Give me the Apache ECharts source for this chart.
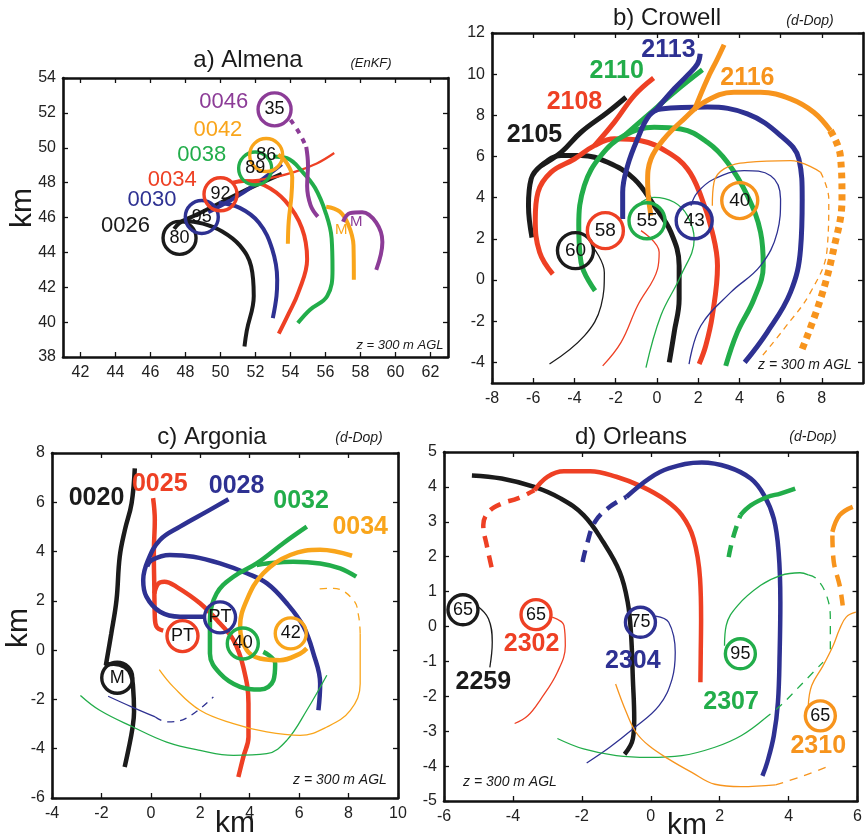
<!DOCTYPE html>
<html><head><meta charset="utf-8">
<script src="https://cdn.jsdelivr.net/npm/echarts@6/dist/echarts.min.js"></script>
<style>html,body{margin:0;padding:0;background:#fff}#c{width:865px;height:836px}</style>
</head><body><div id="c"></div><script>
// ---------- tick labels ----------
const aXTicks=[42,44,46,48,50,52,54,56,58,60,62], aYTicks=[38,40,42,44,46,48,50,52,54];
const bXTicks=[-8,-6,-4,-2,0,2,4,6,8], bYTicks=[-4,-2,0,2,4,6,8,10,12];
const cXTicks=[-4,-2,0,2,4,6,8,10], cYTicks=[-6,-4,-2,0,2,4,6,8];
const dXTicks=[-6,-4,-2,0,2,4,6], dYTicks=[-5,-4,-3,-2,-1,0,1,2,3,4,5];
// ---------- panel a (Almena) ----------
const aK=[[51.37,38.6],[51.5,39.5],[51.9,41.5],[51.75,43.2],[51.1,44.4],[50.1,45.2],[49.0,45.65],[47.95,45.8],[47.35,45.35]];
const aKd=[[47.6,45.7],[48.6,46.15],[50.0,46.85],[51.5,47.6],[53.5,48.5]];
const aB=[[52.99,40.23],[53.2,41.5],[53.24,42.43],[52.95,44.2],[52.2,45.7],[51.1,46.55],[49.9,46.85]];
const aBd=[[49.3,46.3],[50.6,47.0],[52.0,47.9],[53.5,49.05]];
const aR=[[53.33,39.34],[53.9,40.5],[54.45,41.7],[54.95,43.6],[54.65,45.4],[53.7,46.95],[52.5,47.85],[51.3,48.1],[50.7,48.0]];
const aRt=[[51.0,48.1],[52.5,48.2],[54.2,48.6],[55.5,49.1],[56.5,49.7]];
const aG=[[54.42,39.95],[55.1,40.7],[56.1,41.5],[56.4,43.0],[56.35,44.8],[56.0,46.3],[55.4,47.7],[54.7,48.6],[53.8,49.4],[53.0,49.5]];
const aO=[[53.85,44.49],[53.9,45.8],[54.05,47.2],[54.1,48.3],[53.8,49.1],[53.3,49.6]];
const aO2=[[56.04,46.62],[56.8,46.35],[57.3,45.6],[57.6,44.4],[57.62,42.43]];
const aPdot=[[54.0,51.6],[54.5,50.85],[54.9,50.05]];
const aP=[[54.9,50.05],[55.0,49.0],[54.95,47.8],[55.15,46.7],[55.56,46.05]];
const aP2=[[57.0,45.76],[57.4,46.25],[58.1,46.3],[58.9,45.7],[59.25,44.6],[58.9,43.0]];
const aCircles=[[47.66,44.83,'80'],[48.93,46.03,'95'],[50.0,47.33,'92'],[51.98,48.81,'89'],[52.61,49.58,'86'],[53.09,52.2,'35']];
const aTimes=[[50.19,52.63,'0046'],[49.85,51.0,'0042'],[48.93,49.58,'0038'],[47.24,48.18,'0034'],[46.08,47.0,'0030'],[44.57,45.52,'0026']];
const aM=[[56.9,45.29,'M'],[57.75,45.76,'M']];
// ---------- panel b (Crowell) ----------
const bK=[[-6.06,2.07],[-6.23,3.61],[-6.1,4.91],[-5.61,5.56],[-4.65,6.05],[-3.68,6.05],[-2.39,5.72],[-1.1,4.91],[-0.13,3.61],[0.68,2.32],[1.08,0.7],[1.08,-0.92],[0.84,-2.54],[0.6,-4.0]];
const bK2=[[-5.61,5.56],[-4.65,6.2],[-3.68,7.18],[-2.39,8.15],[-1.5,8.88]];
const bKt=[[-3.1,1.6],[-2.55,0.37],[-2.71,-1.25],[-3.52,-2.71],[-5.21,-4.08]];
const bR=[[-5.05,0.29],[-5.69,1.35],[-5.9,2.97],[-5.77,4.26],[-5.13,5.24],[-4.0,5.88],[-3.03,6.53],[-2.06,6.86],[-0.77,6.77],[0.52,6.21],[1.48,5.4],[2.13,4.1],[2.69,2.32],[2.94,0.7],[2.69,-1.73],[2.37,-3.19],[2.05,-4.08]];
const bR2=[[-3.03,6.53],[-2.06,7.67],[-1.1,8.96],[-0.16,9.81]];
const bRt=[[-0.77,2.4],[0.11,1.35],[0.03,0.53],[-0.94,-1.25],[-1.74,-3.03],[-2.63,-4.17]];
const bG=[[-3.0,-0.52],[-3.68,0.86],[-3.79,2.64],[-3.52,4.59],[-2.71,6.05],[-1.58,7.02],[-0.13,7.42],[1.16,7.34],[2.45,6.69],[3.42,5.72],[4.39,4.1],[5.03,2.32],[5.16,0.7],[4.71,-0.92],[3.9,-2.54],[3.34,-4.17]];
const bG2=[[-1.58,7.02],[-0.45,8.0],[0.84,9.12],[2.21,10.21]];
const bGt=[[-0.53,-4.25],[0.19,-1.73],[1.16,0.21],[1.81,1.99],[1.48,3.13],[0.84,3.78],[-0.13,4.02],[-0.77,3.78]];
const bB=[[4.26,-4.0],[5.35,-2.54],[6.48,-0.6],[6.97,1.51],[7.05,3.94],[6.89,5.88],[6.0,7.02],[4.39,8.07],[2.45,8.4],[0.19,8.31],[-0.37,7.99],[-0.94,6.86],[-1.42,5.56],[-1.66,4.26],[-1.66,2.97]];
const bB2=[[-0.1,8.2],[0.84,9.29],[1.48,9.94],[1.97,10.5],[2.1,10.99]];
const bBt=[[1.56,-4.08],[2.13,-2.22],[3.58,-0.6],[5.03,0.7],[5.84,2.32],[6.0,3.94],[5.52,5.07],[4.23,5.32],[2.77,4.91],[1.97,4.26],[1.65,3.61]];
const bO=[[-0.29,3.13],[-0.45,4.75],[-0.29,5.88],[0.35,6.86],[1.32,7.83],[2.29,8.64],[3.74,9.12],[5.03,9.12],[6.48,8.8],[7.61,8.15],[8.42,7.26]];
const bOd=[[8.42,7.26],[8.9,6.05],[8.98,3.94],[8.58,1.51],[7.94,-0.92],[7.05,-3.35]];
const bO2=[[1.81,8.25],[2.45,9.77],[2.94,10.75],[3.26,11.43]];
const bOt=[[2.69,3.61],[2.77,4.75],[3.26,5.4],[4.39,5.72],[6.48,5.8],[7.94,5.24]];
const bOtd=[[7.94,5.24],[8.34,3.94],[8.26,1.51],[7.45,-0.6],[6.16,-2.38],[5.11,-3.68]];
const bCircles=[[-3.95,1.43,'60'],[-2.5,2.4,'58'],[-0.48,2.88,'55'],[1.81,2.88,'43'],[4.02,3.86,'40']];
const bTimes=[[-5.94,7.02,'2105'],[-4.0,8.64,'2108'],[-1.95,10.13,'2110'],[0.56,11.18,'2113'],[4.39,9.8,'2116']];
// ---------- panel c (Argonia) ----------
const cK=[[-0.65,7.38],[-0.78,5.96],[-1.05,4.88],[-1.26,3.79],[-1.39,2.03],[-1.6,0.68],[-1.82,-0.61],[-1.5,-0.55],[-1.05,-0.68],[-0.8,-1.0],[-0.72,-1.5],[-0.68,-2.5],[-0.75,-3.2],[-0.9,-4.0],[-1.06,-4.74]];
const cR=[[0.09,6.17],[0.16,5.28],[0.12,3.93],[0.14,2.57],[0.16,1.36],[0.23,0.95],[0.5,0.79]];
const cR2=[[0.14,2.3],[0.3,2.7],[0.55,2.78],[1.04,2.57],[1.99,1.9],[2.8,1.08],[3.34,0.41],[3.74,-0.68],[3.95,-2.17],[3.95,-3.52],[3.74,-4.34],[3.54,-5.15]];
const cB=[[3.14,6.12],[2.26,5.62],[1.18,5.01],[0.37,4.47],[-0.11,3.66],[-0.31,2.85],[-0.18,2.17],[0.37,1.56],[1.18,1.36],[2.19,1.36]];
const cB2=[[-0.15,3.4],[0.04,3.66],[0.77,3.86],[1.72,3.79],[2.8,3.52],[3.88,3.12],[4.7,2.71],[5.5,1.9],[6.18,0.95],[6.58,-0.14],[6.85,-1.36],[6.78,-2.44]];
const cBt=[[-1.73,-1.87],[-0.78,-2.3],[0.18,-2.71]];
const cBtd=[[0.18,-2.71],[0.65,-2.91],[1.4,-2.78],[2.53,-1.9]];
const cG=[[6.31,5.01],[5.36,4.34],[4.28,3.52],[3.34,2.98],[2.66,2.3],[2.39,1.22],[2.39,-0.14],[2.8,-0.95],[3.61,-1.49],[4.42,-1.6],[4.96,-1.22],[5.03,-0.54],[4.55,-0.07]];
const cG2=[[4.28,3.45],[4.69,3.52],[5.77,3.59],[6.85,3.52],[7.66,3.32],[8.31,2.98]];
const cGt=[[-2.85,-1.84],[-2.07,-2.44],[-0.72,-3.12],[0.64,-3.73],[1.99,-4.07],[3.34,-4.27],[4.69,-4.2],[5.5,-3.66],[6.31,-2.44],[7.12,-1.02]];
const cO=[[8.14,3.83],[6.85,4.07],[5.64,3.86],[4.55,3.12],[3.88,2.03],[3.61,0.95],[3.88,0.0],[4.42,-0.34],[5.23,-0.41],[6.04,-0.14],[6.31,0.07]];
const cOt=[[0.34,-0.79],[0.91,-1.49],[1.99,-2.44],[3.34,-2.98],[4.69,-3.32],[6.04,-3.46],[7.12,-3.12],[8.07,-2.44],[8.47,-1.36],[8.47,0.68]];
const cOtd=[[8.47,0.68],[8.41,1.36],[8.2,2.03],[7.39,2.51],[6.69,2.48]];
const cCircles=[[-1.36,-1.12,'M'],[1.28,0.57,'PT'],[2.8,1.33,'PT'],[3.72,0.27,'40'],[5.66,0.68,'42']];
const cTimes=[[-2.2,6.17,'0020'],[0.36,6.75,'0025'],[3.47,6.64,'0028'],[6.08,6.03,'0032'],[8.47,4.99,'0034']];
// ---------- panel d (Orleans) ----------
const dK=[[-5.19,4.33],[-4.33,4.24],[-3.38,4.0],[-2.62,3.67],[-1.95,3.19],[-1.38,2.42],[-0.9,1.56],[-0.67,0.7],[-0.57,-0.26],[-0.52,-1.5],[-0.48,-2.65],[-0.52,-3.22],[-0.76,-3.66]];
const dKt=[[-5.05,0.6],[-4.71,0.22],[-4.6,-0.45],[-4.67,-1.17]];
const dRd=[[-4.62,1.7],[-4.76,2.33],[-4.86,2.9],[-4.71,3.28],[-4.33,3.52],[-3.86,3.67],[-3.38,3.9]];
const dR=[[-3.38,3.9],[-3.0,4.29],[-2.52,4.45],[-1.76,4.45],[-1.0,4.29],[-0.24,4.0],[0.43,3.62],[0.9,3.19],[1.24,2.52],[1.43,1.37],[1.46,0.22],[1.45,-0.74],[1.44,-1.6]];
const dRt=[[-2.86,0.27],[-2.52,0.03],[-2.48,-0.55],[-2.71,-1.31],[-3.19,-2.08],[-3.57,-2.56],[-3.95,-2.78]];
const dBd=[[-1.98,1.85],[-1.86,2.33],[-1.62,3.0],[-1.19,3.43],[-0.71,3.71]];
const dB=[[-0.71,3.71],[-0.05,4.24],[0.52,4.53],[1.48,4.7],[2.24,4.57],[2.9,4.24],[3.29,3.76],[3.57,3.09],[3.71,2.13],[3.76,0.7],[3.74,-0.74],[3.69,-2.17],[3.57,-3.13],[3.38,-3.89],[3.24,-4.28]];
const dBt=[[0.14,0.3],[0.52,0.12],[0.71,-0.74],[0.62,-1.5],[0.24,-2.27],[-0.52,-2.94],[-1.19,-3.46],[-1.86,-3.91]];
const dGd=[[2.26,1.99],[2.38,2.52],[2.6,3.19]];
const dG=[[2.6,3.19],[2.9,3.47],[3.38,3.71],[3.76,3.81],[4.19,3.95]];
const dGt=[[2.14,-0.55],[2.19,0.03],[2.52,0.6],[3.19,1.18],[3.76,1.46],[4.33,1.54],[4.57,1.48]];
const dGtd=[[4.57,1.48],[4.81,1.37],[5.1,0.89],[5.21,0.22],[5.21,-0.74]];
const dGl=[[-2.71,-3.21],[-1.95,-3.51],[-1.0,-3.7],[-0.05,-3.75],[0.9,-3.7],[1.86,-3.46],[2.62,-3.13],[3.29,-2.65]];
const dGld=[[3.29,-2.65],[3.76,-2.27],[4.43,-1.6],[5.0,-1.02]];
const dO=[[5.86,3.43],[5.48,3.19],[5.27,2.71]];
const dOd=[[5.27,2.61],[5.31,1.85],[5.48,1.18],[5.57,0.6]];
const dOt=[[-1.02,-1.65],[-0.71,-2.46],[-0.43,-3.03],[-0.05,-3.42],[0.52,-3.8],[1.19,-4.18],[1.86,-4.52],[2.62,-4.59],[3.62,-4.54]];
const dOtd=[[3.62,-4.54],[4.43,-4.28],[5.19,-3.99]];
const dOt2=[[4.57,-2.27],[4.67,-1.69],[5.0,-1.12],[5.29,-0.55],[5.48,-0.07],[5.67,0.27],[5.95,0.41]];
const dCircles=[[-5.45,0.48,'65'],[-3.33,0.34,'65'],[-0.3,0.12,'75'],[2.6,-0.78,'95'],[4.92,-2.56,'65']];
const dTimes=[[-4.86,-1.6,'2259'],[-3.46,-0.5,'2302'],[-0.52,-0.98,'2304'],[2.33,-2.17,'2307'],[4.86,-3.42,'2310']];

// ---------- styling ----------
const K='#1b1b1b',R='#ee4024',B='#2e3192',G='#22ad4a',O='#f7941d',OA='#f9a51b',P='#8c3c97';
const FONT='Liberation Sans';
const grids=[{left:63,top:78,width:385,height:279},{left:492,top:33,width:371,height:350},{left:52,top:453,width:346,height:345},{left:444,top:452,width:419,height:349}];
const ranges=[[41,63,38,54,aXTicks,aYTicks],[-8,10,-5,12,bXTicks,bYTicks],[-4,10,-6,8,cXTicks,cYTicks],[-6,6,-5,5,dXTicks,dYTicks]];
const xAxis=[],yAxis=[];
function ax(i,pos,lab,isX){
  const r=ranges[i];const t=isX?r[4]:r[5];
  return {type:'value',gridIndex:i,position:pos,min:isX?r[0]:r[2],max:isX?r[1]:r[3],
    axisLine:{onZero:false,lineStyle:{color:'#111',width:2.6}},
    axisTick:{inside:true,length:5,customValues:t,lineStyle:{color:'#111',width:1.3}},
    axisLabel:{show:lab,customValues:t,margin:isX?8:7,fontSize:16,color:'#222',fontFamily:FONT},
    splitLine:{show:false}};
}
for(let i=0;i<4;i++){xAxis.push(ax(i,'bottom',true,true));yAxis.push(ax(i,'left',true,false));}
for(let i=0;i<4;i++){xAxis.push(ax(i,'top',false,true));yAxis.push(ax(i,'right',false,false));}

const series=[];
function ln(p,data,color,w,type){series.push({type:'line',xAxisIndex:p,yAxisIndex:p,data,smooth:0.4,symbol:'none',silent:true,
  lineStyle:{color,width:w,type:type||'solid',cap:'butt',opacity:1},z:2});}
function circ(p,arr,colors,size,fs){series.push({type:'scatter',xAxisIndex:p,yAxisIndex:p,symbolSize:size,silent:true,z:5,
  itemStyle:{opacity:1},
  data:arr.map((d,i)=>({name:d[2],value:[d[0],d[1]],itemStyle:{opacity:1,color:'rgba(255,255,255,0)',borderColor:colors[i],borderWidth:3.4}})),
  label:{show:true,position:'inside',formatter:'{b}',color:'#111',opacity:1,fontSize:fs,fontFamily:FONT}});}
function txt(p,arr,colors,fs,bold){series.push({type:'scatter',xAxisIndex:p,yAxisIndex:p,symbolSize:1,silent:true,z:6,
  itemStyle:{color:'rgba(0,0,0,0)',opacity:1},
  data:arr.map((d,i)=>({name:d[2],value:[d[0],d[1]],label:{color:colors[i]}})),
  label:{show:true,position:'inside',formatter:'{b}',opacity:1,fontSize:fs,fontWeight:bold?'bold':'normal',fontFamily:FONT}});}

// panel a
const TA=4;
ln(0,aK,K,TA);ln(0,aKd,K,TA);ln(0,aB,B,TA);ln(0,aBd,B,TA);ln(0,aR,R,TA);ln(0,aRt,R,2.2);
ln(0,aG,G,TA);ln(0,aO,OA,TA);ln(0,aO2,OA,TA);ln(0,aPdot,P,TA,[5,6]);ln(0,aP,P,TA);ln(0,aP2,P,TA);
circ(0,aCircles,[K,B,R,G,OA,P],33,18);
txt(0,aTimes,[P,OA,G,R,B,K],22,false);
txt(0,aM,[OA,P],15,false);
// panel b
const TB=5,tn=1.3;
ln(1,bK,K,TB);ln(1,bK2,K,TB);ln(1,bKt,K,tn);
ln(1,bR,R,TB);ln(1,bR2,R,TB);ln(1,bRt,R,tn);
ln(1,bG,G,TB);ln(1,bG2,G,TB);ln(1,bGt,G,tn);
ln(1,bB,B,TB);ln(1,bB2,B,TB);ln(1,bBt,B,tn);
ln(1,bO,O,TB);ln(1,bOd,O,7,[6,5]);ln(1,bO2,O,TB);ln(1,bOt,O,tn);ln(1,bOtd,O,tn,[6,5]);
circ(1,bCircles,[K,R,G,B,O],36,19);
txt(1,bTimes,[K,R,G,B,O],25,true);
// panel c
const TC=4.5;
ln(2,cK,K,TC);ln(2,cR,R,TC);ln(2,cR2,R,TC);
ln(2,cB,B,TC);ln(2,cB2,B,TC);ln(2,cBt,B,tn);ln(2,cBtd,B,tn,[7,6]);
ln(2,cG,G,TC);ln(2,cG2,G,TC);ln(2,cGt,G,tn);
ln(2,cO,OA,TC);ln(2,cOt,OA,tn);ln(2,cOtd,OA,tn,[7,6]);
circ(2,cCircles,[K,R,B,G,OA],31,18);
txt(2,cTimes,[K,R,B,G,OA],25,true);
// panel d
const TD=4.5;
ln(3,dK,K,TD);ln(3,dKt,K,tn);
ln(3,dRd,R,TD,[12,8]);ln(3,dR,R,TD);ln(3,dRt,R,tn);
ln(3,dBd,B,TD,[12,8]);ln(3,dB,B,TD);ln(3,dBt,B,tn);
ln(3,dGd,G,TD,[12,8]);ln(3,dG,G,TD);ln(3,dGt,G,tn);ln(3,dGtd,G,tn,[8,7]);ln(3,dGl,G,tn);ln(3,dGld,G,tn,[8,7]);
ln(3,dO,O,TD);ln(3,dOd,O,TD,[12,8]);ln(3,dOt,O,tn);ln(3,dOtd,O,tn,[8,7]);ln(3,dOt2,O,tn);
circ(3,dCircles,[K,R,B,G,O],30,18);
txt(3,dTimes,[K,R,B,G,O],25,true);

function T(x,y,text,fs,opt){return Object.assign({type:'text',x,y,silent:true,z:10,
  style:Object.assign({text,fontSize:fs,fontFamily:FONT,fill:'#1a1a1a',align:'center',verticalAlign:'middle'},opt||{})});}
const graphic=[
  T(248,60,'a) Almena',24),T(371,63,'(EnKF)',13,{fontStyle:'italic'}),
  T(667,18,'b) Crowell',24),T(810,21,'(d-Dop)',14,{fontStyle:'italic'}),
  T(212,437,'c) Argonia',24),T(359,438,'(d-Dop)',14,{fontStyle:'italic'}),
  T(631,437,'d) Orleans',24),T(813,437,'(d-Dop)',14,{fontStyle:'italic'}),
  T(400,345,'z = 300 m AGL',13,{fontStyle:'italic'}),
  T(805,365,'z = 300 m AGL',14,{fontStyle:'italic'}),
  T(340,780,'z = 300 m AGL',14,{fontStyle:'italic'}),
  T(510,782,'z = 300 m AGL',14,{fontStyle:'italic'}),
  Object.assign(T(23,208,'km',30),{rotation:Math.PI/2}),
  Object.assign(T(19,628,'km',30),{rotation:Math.PI/2}),
  T(235,824,'km',30),T(687,826,'km',30)
];
const chart=echarts.init(document.getElementById('c'),null,{renderer:'canvas'});
chart.setOption({animation:false,backgroundColor:'#fff',grid:grids,xAxis,yAxis,series,graphic});
</script></body></html>
